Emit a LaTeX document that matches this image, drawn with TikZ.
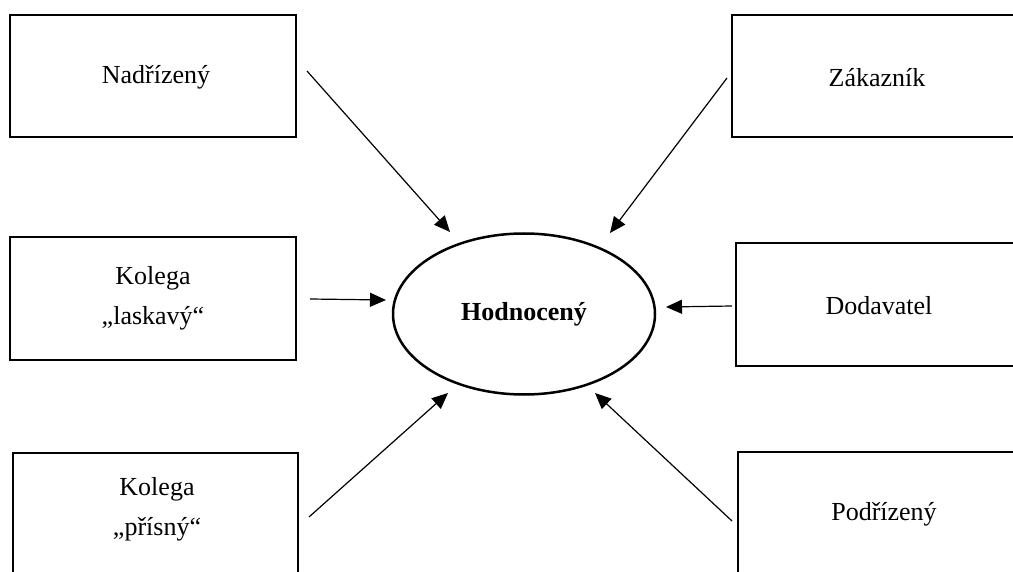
\documentclass[tikz,border=0pt]{standalone}
\usepackage{fontspec}
\setmainfont{Liberation Serif}
\usetikzlibrary{shapes.geometric,arrows.meta}
\begin{document}
\begin{tikzpicture}[x=1pt,y=-1pt,
  box/.style={draw=black,line width=2.6pt,rectangle,inner sep=0pt},
  lbl/.style={font=\fontsize{26}{40}\selectfont,align=center,inner sep=0pt},
  conn/.style={line width=1.2pt,-{Triangle[length=16pt,width=14pt]}}]
\useasboundingbox (0,0) rectangle (1013,572);
\clip (0,0) rectangle (1013,572);
% boxes
\node[box,minimum width=286pt,minimum height=122pt] (nad) at (153,76) {};
\node[lbl] (tnad) at (156,77) {Nadřízený};
\node[box,minimum width=290pt,minimum height=122pt] (zak) at (877,76) {};
\node[lbl] (tzak) at (877,78) {Zákazník};
\node[box,minimum width=286pt,minimum height=123pt] (kl) at (153,298.5) {};
\node[lbl] (tkl) at (153,298) {Kolega\\„laskavý“};
\node[box,minimum width=286pt,minimum height=123pt] (dod) at (879,304.5) {};
\node[lbl] (tdod) at (879,306) {Dodavatel};
\node[box,minimum width=285pt,minimum height=150pt] (kp) at (155.5,528) {};
\node[lbl] (tkp) at (157,509) {Kolega\\„přísný“};
\node[box,minimum width=292pt,minimum height=150pt] (pod) at (884,527) {};
\node[lbl] (tpod) at (884,514) {Podřízený};
% ellipse
\node[draw=black,line width=2.5pt,ellipse,minimum width=262pt,minimum height=161pt,inner sep=0pt,
      font=\fontsize{26}{31}\selectfont\bfseries] (hod) at (524,314) {Hodnocený};
% connector ends
\coordinate (s1) at (307,71);   \coordinate (e1) at (450,232);
\coordinate (s2) at (727,78);   \coordinate (e2) at (610,233);
\coordinate (s3) at (310,299);  \coordinate (e3) at (386,300);
\coordinate (s4) at (732,306);  \coordinate (e4) at (666,307);
\coordinate (s5) at (309,517);  \coordinate (e5) at (448,393);
\coordinate (s6) at (732,521);  \coordinate (e6) at (595,393);
\draw[conn] (s1) -- (e1);
\draw[conn] (s2) -- (e2);
\draw[conn] (s3) -- (e3);
\draw[conn] (s4) -- (e4);
\draw[conn] (s5) -- (e5);
\draw[conn] (s6) -- (e6);
\end{tikzpicture}
\end{document}
